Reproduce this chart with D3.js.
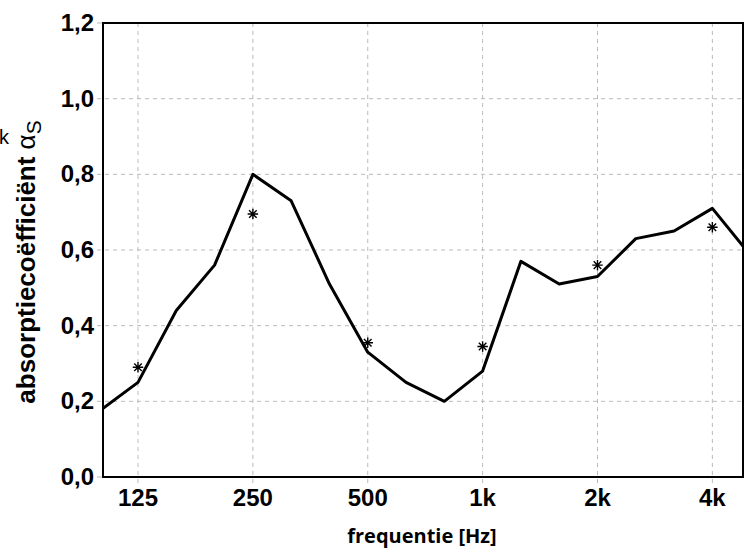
<!DOCTYPE html>
<html>
<head>
<meta charset="utf-8">
<script src="https://cdn.jsdelivr.net/npm/d3@7"></script>
<style>
body { margin: 0; background: #fff; }
text { font-family: "Liberation Sans", Arial, sans-serif; }
</style>
</head>
<body>
<div id="graph"></div>
<script>
// third-octave bands, 100 Hz .. 5 kHz
var bands = ["100","125","160","200","250","315","400","500","630","800","1k","1250","1600","2k","2500","3150","4k","5k"];
var alpha_line = [0.175, 0.25, 0.44, 0.56, 0.80, 0.73, 0.51, 0.33, 0.25, 0.20, 0.28, 0.57, 0.51, 0.53, 0.63, 0.65, 0.71, 0.585];
// octave measurements (stars)
var oct_bands = ["125","250","500","1k","2k","4k"];
var alpha_oct = [0.29, 0.695, 0.355, 0.345, 0.56, 0.66];
var y_ticks = [0, 0.2, 0.4, 0.6, 0.8, 1.0, 1.2];

var W = 747, H = 551;
var margin = {top: 23, right: 4, bottom: 74, left: 103};
var width = W - margin.left - margin.right,
    height = H - margin.top - margin.bottom;

var svg = d3.select("#graph").append("svg")
  .attr("width", W).attr("height", H);

var g = svg.append("g").attr("transform", "translate(" + margin.left + "," + margin.top + ")");

// x: index of third-octave band
var x = d3.scaleLinear().domain([0.086, 16.8]).range([0, width]);
var y = d3.scaleLinear().domain([0, 1.2]).range([height, 0]);
var idx = function(b){ return bands.indexOf(b); };

// grid
g.selectAll(".hgrid").data(y_ticks.slice(1, 6)).enter().append("line")
  .attr("x1", -6).attr("x2", width)
  .attr("y1", function(d){ return y(d); }).attr("y2", function(d){ return y(d); })
  .attr("stroke", "#bbb").attr("stroke-dasharray", "4,4").attr("stroke-width", 1);
g.selectAll(".htick").data([0, 1.2]).enter().append("line")
  .attr("x1", -6).attr("x2", 0)
  .attr("y1", function(d){ return y(d); }).attr("y2", function(d){ return y(d); })
  .attr("stroke", "#bbb").attr("stroke-width", 1);
g.selectAll(".vgrid").data(oct_bands).enter().append("line")
  .attr("x1", function(d){ return x(idx(d)); }).attr("x2", function(d){ return x(idx(d)); })
  .attr("y1", 0).attr("y2", height + 6)
  .attr("stroke", "#bbb").attr("stroke-dasharray", "4,4").attr("stroke-width", 1);

// y tick labels
g.selectAll(".ylab").data(y_ticks).enter().append("text")
  .attr("x", -9).attr("y", function(d){ return y(d) + 8; })
  .attr("text-anchor", "end")
  .style("font-size", "24px").style("font-weight", "bold")
  .text(function(d){ return d.toFixed(1).replace(".", ","); });

// x tick labels
g.selectAll(".xlab").data(oct_bands).enter().append("text")
  .attr("x", function(d){ return x(idx(d)); }).attr("y", height + 29)
  .attr("text-anchor", "middle")
  .style("font-size", "24px").style("font-weight", "bold")
  .text(function(d){ return d; });

// clip + line
svg.append("defs").append("clipPath").attr("id", "clip")
  .append("rect").attr("width", width).attr("height", height);

var line = d3.line()
  .x(function(d, i){ return x(i); })
  .y(function(d){ return y(d); });

g.append("path")
  .datum(alpha_line)
  .attr("clip-path", "url(#clip)")
  .attr("fill", "none").attr("stroke", "#000")
  .attr("stroke-width", 3).attr("stroke-linejoin", "round")
  .attr("d", line);

// stars (8 arms, like the matlab '*' marker)
var starType = {
  draw: function(ctx, size){
    var r = Math.sqrt(size) / 2, d = r * 0.72;
    ctx.moveTo(0, -r); ctx.lineTo(0, r);
    ctx.moveTo(-r, 0); ctx.lineTo(r, 0);
    ctx.moveTo(-d, -d); ctx.lineTo(d, d);
    ctx.moveTo(-d, d); ctx.lineTo(d, -d);
  }
};
var star = d3.symbol().type(starType).size(110);
g.selectAll(".star").data(alpha_oct).enter().append("path")
  .attr("d", star)
  .attr("transform", function(d, i){ return "translate(" + x(idx(oct_bands[i])) + "," + y(d) + ")"; })
  .attr("fill", "none").attr("stroke", "#000").attr("stroke-width", 1.4);

// frame
g.append("rect").attr("width", width).attr("height", height)
  .attr("fill", "none").attr("stroke", "#000").attr("stroke-width", 2);

// axis titles
svg.append("text")
  .attr("x", 422).attr("y", 543)
  .attr("text-anchor", "middle")
  .style("font-family", "'Open Sans', sans-serif")
  .style("font-size", "20px").style("font-weight", "bold")
  .text("frequentie [Hz]");

var ylab = svg.append("text")
  .attr("transform", "translate(35,262) rotate(-90)")
  .attr("text-anchor", "middle")
  .style("font-size", "26px").style("font-weight", "bold");
ylab.append("tspan").text("absorptiecoëfficiënt ");
ylab.append("tspan").style("font-weight", "normal").text("α");
ylab.append("tspan").style("font-weight", "normal").style("font-size", "21px").attr("dy", 6).text("S");

svg.append("text").attr("x", -1).attr("y", 144)
  .style("font-size", "20px").text("k");
</script>
</body>
</html>
